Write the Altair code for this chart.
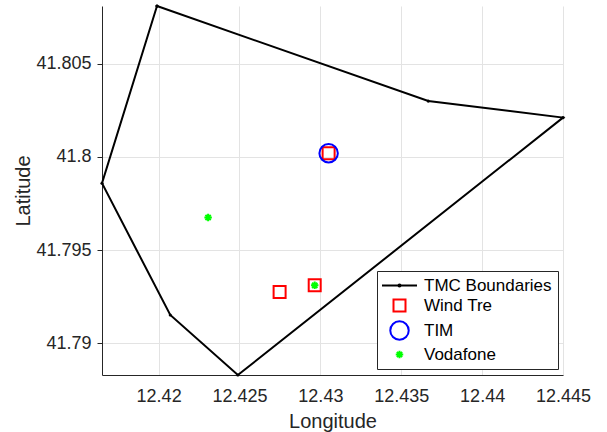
import altair as alt
import pandas as pd

# TMC boundary polygon (closed: last vertex repeats the first)
boundary_lon = [12.4199, 12.43667, 12.4450, 12.4249, 12.42072, 12.4165, 12.4199]
boundary_lat = [41.8081, 41.8030, 41.80211, 41.7883, 41.79152, 41.79859, 41.8081]

# Base station positions per operator
windtre_lon = [12.43051, 12.42748, 12.42965]
windtre_lat = [41.8002, 41.79275, 41.79311]
tim_lon = [12.43051]
tim_lat = [41.8002]
vodafone_lon = [12.42306, 12.42965]
vodafone_lat = [41.79675, 41.79311]

x_ticks = [12.42, 12.425, 12.43, 12.435, 12.44, 12.445]
y_ticks = [41.79, 41.795, 41.8, 41.805]
x_domain = [12.4165, 12.445]
y_domain = [41.7883, 41.8081]

series = ["TMC Boundaries", "Wind Tre", "TIM", "Vodafone"]
colors = ["#000000", "#ff0000", "#0000ff", "#00ff00"]
line_glyph = "M-2.5,0H2.5M-0.15,0A0.15,0.15 0 1,1 0.15,0A0.15,0.15 0 1,1 -0.15,0"
asterisk = "M0,-1V1M-1,0H1M-0.7,-0.7L0.7,0.7M-0.7,0.7L0.7,-0.7"
shapes = [line_glyph, "square", "circle", asterisk]
sizes = [196, 144, 340, 56]

poly = pd.DataFrame({"lon": boundary_lon, "lat": boundary_lat,
                     "k": list(range(len(boundary_lon)))})

rows = []
for name, lons, lats in [("Wind Tre", windtre_lon, windtre_lat),
                         ("TIM", tim_lon, tim_lat),
                         ("Vodafone", vodafone_lon, vodafone_lat)]:
    for lo, la in zip(lons, lats):
        rows.append({"lon": lo, "lat": la, "network": name})
stations = pd.DataFrame(rows)

FONT = "Liberation Sans"
INK = "#262626"
GRID = "#e3e3e3"

x_enc = alt.X("lon:Q", title="Longitude",
              scale=alt.Scale(domain=x_domain, nice=False, zero=False),
              axis=alt.Axis(values=x_ticks, format="~f", ticks=False,
                            labelPadding=12, titlePadding=6, labelFlush=False,
                            grid=True, gridColor=GRID, domainColor=INK))
y_enc = alt.Y("lat:Q", title="Latitude",
              scale=alt.Scale(domain=y_domain, nice=False, zero=False),
              axis=alt.Axis(values=y_ticks, format="~f", tickSize=5,
                            tickColor=INK, labelPadding=6, titlePadding=2,
                            labelFlush=False,
                            grid=True, gridColor=GRID, domainColor=INK))

boundary = alt.Chart(poly).mark_line(color="black", strokeWidth=2).encode(
    x=x_enc, y=y_enc, order="k:Q"
)
vertices = alt.Chart(poly).mark_point(filled=True, color="black", size=10, opacity=1).encode(
    x="lon:Q", y="lat:Q"
)

points = alt.Chart(stations).mark_point(filled=False, strokeWidth=2, opacity=1).encode(
    x="lon:Q",
    y="lat:Q",
    color=alt.Color("network:N", scale=alt.Scale(domain=series, range=colors),
                    legend=alt.Legend(title=None)),
    shape=alt.Shape("network:N", scale=alt.Scale(domain=series, range=shapes)),
    size=alt.Size("network:N",
                  scale=alt.Scale(type="ordinal", domain=series, range=sizes)),
)

chart = (
    alt.layer(boundary, vertices, points)
    .properties(
        width=461, height=369,
        autosize=alt.AutoSizeParams(type="none"),
        padding={"left": 102, "top": 6, "right": 44, "bottom": 57},
    )
    .configure_view(stroke=None)
    .configure_axis(labelFont=FONT, titleFont=FONT, labelFontSize=18,
                    titleFontSize=20, labelColor=INK, titleColor=INK,
                    titleFontWeight="normal", domainWidth=1)
    .configure_legend(orient="none", legendX=275, legendY=265,
                      padding=6, symbolOffset=6, strokeColor=INK,
                      fillColor="white",
                      labelFont=FONT, labelFontSize=17, labelColor="#000000",
                      symbolStrokeWidth=2, labelOffset=14, rowPadding=1,
                      symbolFillColor="transparent")
)

chart.save("out.html", embed_options={"renderer": "svg", "actions": False})
